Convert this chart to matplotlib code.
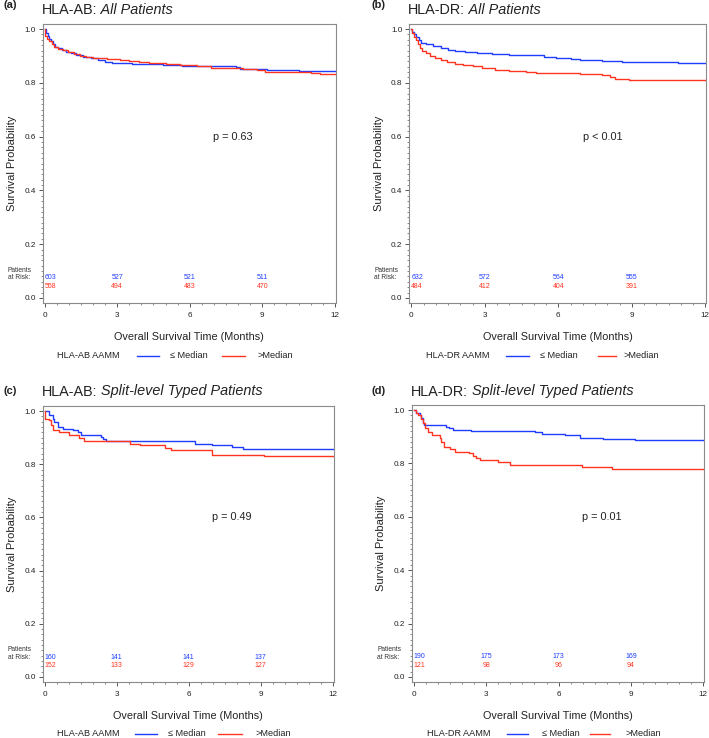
import matplotlib.pyplot as plt
import matplotlib.transforms as mtransforms
from matplotlib.lines import Line2D
from matplotlib.ticker import MultipleLocator, FormatStrFormatter

plt.rcParams['font.family'] = ['Liberation Sans', 'DejaVu Sans']

BLUE = '#1f3cff'
RED = '#ff3522'
TXT = '#222222'

risk_times = [0, 3, 6, 9]

# (a) HLA-AB, all patients
a_low_t = [0, 0.05, 0.12, 0.18, 0.25, 0.33, 0.42, 0.55, 0.7, 0.9, 1.1, 1.3, 1.6, 1.9, 2.2, 2.5, 2.8,
           3.6, 4.3, 4.9, 5.7, 6.8, 7.9, 8.1, 8.9, 9.2, 10.5, 12]
a_low_s = [1.0, 0.985, 0.975, 0.963, 0.955, 0.945, 0.935, 0.928, 0.922, 0.915, 0.91, 0.905, 0.898, 0.891,
           0.885, 0.878, 0.873, 0.871, 0.869, 0.866, 0.864, 0.862, 0.858, 0.853, 0.85, 0.847, 0.845, 0.845]
a_high_t = [0, 0.03, 0.1, 0.2, 0.3, 0.4, 0.55, 0.75, 0.95, 1.2, 1.45, 1.7, 2.0, 2.6, 3.1, 3.5, 3.9, 4.3,
            5.0, 5.6, 6.3, 6.9, 7.6, 8.2, 8.8, 9.1, 10.2, 11.0, 11.4, 12]
a_high_s = [1.0, 0.975, 0.965, 0.955, 0.945, 0.935, 0.927, 0.921, 0.915, 0.908, 0.9, 0.895, 0.891, 0.889,
            0.886, 0.882, 0.878, 0.874, 0.871, 0.867, 0.864, 0.857, 0.855, 0.852, 0.848, 0.842, 0.84,
            0.837, 0.834, 0.834]
a_risk_low = [603, 527, 521, 511]
a_risk_high = [558, 494, 483, 470]

# (b) HLA-DR, all patients
b_low_t = [0, 0.05, 0.1, 0.2, 0.3, 0.4, 0.6, 0.9, 1.2, 1.5, 1.8, 2.2, 2.7, 3.3, 4.0, 4.8, 5.4, 5.9, 6.5,
           6.9, 7.8, 8.6, 9.5, 10.9, 12]
b_low_s = [1.0, 0.99, 0.98, 0.97, 0.96, 0.95, 0.945, 0.938, 0.931, 0.924, 0.917, 0.913, 0.91, 0.907,
           0.904, 0.902, 0.898, 0.893, 0.889, 0.884, 0.881, 0.879, 0.877, 0.873, 0.873]
b_high_t = [0, 0.05, 0.12, 0.2, 0.28, 0.35, 0.45, 0.6, 0.75, 0.95, 1.2, 1.45, 1.8, 2.1, 2.5, 2.9, 3.4,
            4.0, 4.7, 5.1, 6.9, 7.8, 8.1, 8.3, 8.9, 10.8, 12]
b_high_s = [1.0, 0.985, 0.97, 0.958, 0.945, 0.93, 0.918, 0.91, 0.9, 0.893, 0.884, 0.878, 0.871, 0.866,
            0.861, 0.856, 0.849, 0.845, 0.841, 0.837, 0.833, 0.828, 0.822, 0.816, 0.811, 0.809, 0.809]
b_risk_low = [632, 572, 564, 555]
b_risk_high = [484, 412, 404, 391]

# (c) HLA-AB, split-level typed patients
c_low_t = [0, 0.19, 0.33, 0.4, 0.54, 0.75, 1.17, 1.38, 1.52, 1.66, 2.35, 2.42, 2.56, 6.26, 6.96, 7.8,
           8.28, 12]
c_low_s = [1.0, 0.985, 0.971, 0.959, 0.94, 0.934, 0.927, 0.921, 0.911, 0.909, 0.902, 0.896, 0.886,
           0.877, 0.871, 0.865, 0.857, 0.857]
c_high_t = [0, 0.03, 0.2, 0.28, 0.36, 0.6, 1.0, 1.45, 1.66, 3.54, 3.96, 5.0, 5.28, 6.96, 9.12, 12]
c_high_s = [1.0, 0.971, 0.965, 0.946, 0.927, 0.921, 0.909, 0.9, 0.886, 0.877, 0.871, 0.861, 0.852,
            0.836, 0.83, 0.83]
c_risk_low = [160, 141, 141, 137]
c_risk_high = [152, 133, 129, 127]

# (d) HLA-DR, split-level typed patients
d_low_t = [0, 0.1, 0.235, 0.3, 0.37, 0.42, 1.34, 1.44, 1.62, 2.38, 5.02, 5.3, 6.26, 6.9, 7.85, 9.17, 12]
d_low_s = [1.0, 0.988, 0.981, 0.969, 0.95, 0.944, 0.938, 0.931, 0.925, 0.921, 0.916, 0.911, 0.906,
           0.897, 0.891, 0.886, 0.886]
d_high_t = [0, 0.1, 0.17, 0.28, 0.37, 0.44, 0.58, 0.75, 1.07, 1.14, 1.25, 1.48, 1.69, 2.3, 2.45, 2.59,
            2.73, 3.49, 3.98, 6.96, 8.2, 12]
d_high_s = [1.0, 0.988, 0.981, 0.966, 0.95, 0.934, 0.919, 0.906, 0.894, 0.879, 0.863, 0.854, 0.844,
            0.838, 0.829, 0.821, 0.813, 0.804, 0.794, 0.786, 0.779, 0.779]
d_risk_low = [190, 175, 173, 169]
d_risk_high = [121, 98, 96, 94]

panels = [
    dict(letter='(a)', gene='HLA-AB', group='All Patients', p='p = 0.63',
         rect=(42.7, 24, 335.5, 303), lx=3, ly=8, ty=14, legx=(57, 137, 159, 170, 222, 245, 257), legy=356,
         low=(a_low_t, a_low_s), high=(a_high_t, a_high_s), risk=(a_risk_low, a_risk_high)),
    dict(letter='(b)', gene='HLA-DR', group='All Patients', p='p < 0.01',
         rect=(409.3, 24, 706, 303), lx=372, ly=8, ty=14, legx=(426, 506, 529, 540, 598, 616, 624), legy=356,
         low=(b_low_t, b_low_s), high=(b_high_t, b_high_s), risk=(b_risk_low, b_risk_high)),
    dict(letter='(c)', gene='HLA-AB', group='Split-level Typed Patients', p='p = 0.49',
         rect=(42.7, 406, 333.5, 682), lx=3, ly=394.5, ty=395.5, legx=(57, 135, 157, 168, 218, 242, 255),
         legy=734, low=(c_low_t, c_low_s), high=(c_high_t, c_high_s), risk=(c_risk_low, c_risk_high)),
    dict(letter='(d)', gene='HLA-DR', group='Split-level Typed Patients', p='p = 0.01',
         rect=(412, 405, 704, 682), lx=372, ly=394.5, ty=395.5, legx=(427, 507, 528, 542, 590, 610, 625),
         legy=734, low=(d_low_t, d_low_s), high=(d_high_t, d_high_s), risk=(d_risk_low, d_risk_high)),
]

W, H = 709, 738
fig = plt.figure(figsize=(W / 100, H / 100), dpi=100)
px = mtransforms.Affine2D().scale(1 / W, -1 / H).translate(0, 1) + fig.transFigure

for pn in panels:
    x0, y0, x1, y1 = pn['rect']
    ax = fig.add_axes([x0 / W, 1 - y1 / H, (x1 - x0) / W, (y1 - y0) / H])

    ax.step(pn['low'][0], pn['low'][1], where='post', color=BLUE, lw=1.0)
    ax.step(pn['high'][0], pn['high'][1], where='post', color=RED, lw=1.0)

    ax.set_xlim(-0.08, 12.03)
    ax.set_ylim(-0.019, 1.019)
    ax.xaxis.set_major_locator(MultipleLocator(3))
    ax.xaxis.set_minor_locator(MultipleLocator(0.5))
    ax.yaxis.set_major_locator(MultipleLocator(0.2))
    ax.yaxis.set_minor_locator(MultipleLocator(0.02))
    ax.yaxis.set_major_formatter(FormatStrFormatter('%.1f'))
    ax.tick_params(which='major', direction='out', length=3, width=0.7, pad=2,
                   labelsize=5.9, colors='#555555', labelcolor=TXT)
    ax.tick_params(which='minor', direction='out', length=1.6, width=0.6, colors='#777777')
    ax.tick_params(axis='x', which='major', pad=3.5)
    for sp in ax.spines.values():
        sp.set_color('#8a8a8a')
        sp.set_linewidth(0.8)

    ax.set_ylabel('Survival Probability', fontsize=8, color=TXT)
    ax.yaxis.set_label_coords(-25.5 / (x1 - x0), 0.5)
    ax.set_xlabel('Overall Survival Time (Months)', fontsize=7.8, color=TXT)
    ax.xaxis.set_label_coords(0.5, -29 / (y1 - y0))

    ax.text(7.8, 0.6, pn['p'], fontsize=7.8, color=TXT, ha='center', va='center')

    # patients at risk
    for i, t in enumerate(risk_times):
        ha = 'left' if t == 0 else 'center'
        ax.text(t, 0.075, str(pn['risk'][0][i]), fontsize=5, color=BLUE, ha=ha, va='center')
        ax.text(t, 0.042, str(pn['risk'][1][i]), fontsize=5, color=RED, ha=ha, va='center')
    ax.text(-11 / (x1 - x0), 0.088, 'Patients\nat Risk:', transform=ax.get_yaxis_transform(),
            fontsize=4.8, color='#333333', ha='right', va='center', multialignment='left',
            linespacing=1.1)

    # panel letter and title (gene plain, group italic)
    fig.text(pn['lx'], pn['ly'], pn['letter'], transform=px, fontsize=8, fontweight='bold',
             color=TXT, va='baseline')
    t1 = fig.text(x0 - 1, pn['ty'], pn['gene'] + ':', transform=px, fontsize=10.4, color=TXT,
                  va='baseline')
    ax.annotate(' ' + pn['group'], xy=(1, 0), xycoords=t1, fontsize=10.4, color=TXT,
                style='italic', va='bottom', ha='left', annotation_clip=False)

    # legend row
    lg = pn['legx']
    ly = pn['legy']
    fig.text(lg[0], ly, pn['gene'] + ' AAMM', transform=px, fontsize=6.6, color=TXT, va='center')
    fig.add_artist(Line2D([lg[1], lg[2]], [ly, ly], transform=px, color=BLUE, lw=1.0))
    fig.text(lg[3], ly, '\u2264 Median', transform=px, fontsize=6.6, color=TXT, va='center')
    fig.add_artist(Line2D([lg[4], lg[5]], [ly, ly], transform=px, color=RED, lw=1.0))
    fig.text(lg[6], ly, '>Median', transform=px, fontsize=6.6, color=TXT, va='center')

fig.savefig('out.png', dpi=100)
